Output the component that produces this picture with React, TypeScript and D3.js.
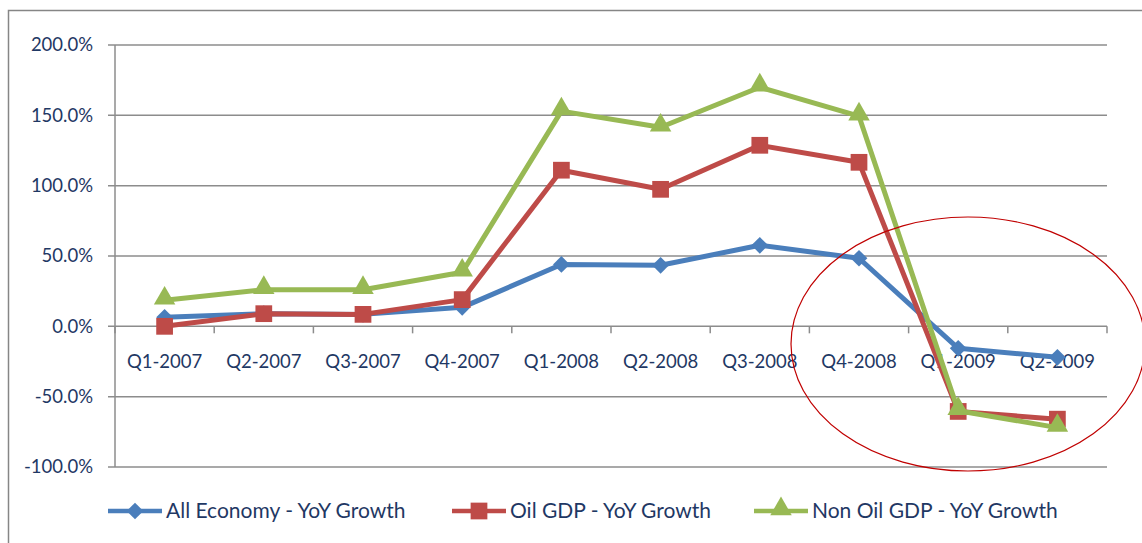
import React, { useEffect, useRef } from "react";
import * as d3 from "d3";

const categories = [
  "Q1-2007", "Q2-2007", "Q3-2007", "Q4-2007", "Q1-2008",
  "Q2-2008", "Q3-2008", "Q4-2008", "Q1-2009", "Q2-2009",
];
const allEconomy = [6.4, 9.0, 8.5, 13.5, 44.0, 43.4, 57.6, 48.4, -15.6, -22.0];
const oilGdp = [0.0, 9.0, 8.5, 19.0, 111.0, 97.4, 128.7, 116.6, -60.5, -66.0];
const nonOilGdp = [18.5, 26.0, 26.0, 38.4, 153.0, 141.5, 170.0, 149.4, -60.0, -72.0];
const yTicks = [-100, -50, 0, 50, 100, 150, 200];

const series = [
  { name: "All Economy - YoY Growth", values: allEconomy, color: "#4a7ebb", marker: "diamond" },
  { name: "Oil GDP - YoY Growth", values: oilGdp, color: "#be4b48", marker: "square" },
  { name: "Non Oil GDP - YoY Growth", values: nonOilGdp, color: "#98b954", marker: "triangle" },
];

const W = 1142;
const H = 543;
const textColor = "#1f3864";
const font = "Lato, sans-serif";

export default function App() {
  const ref = useRef<SVGSVGElement>(null);

  useEffect(() => {
    const svg = d3.select(ref.current);
    svg.selectAll("*").remove();

    const margin = { top: 45, right: 35, bottom: 76, left: 115 };
    const x = d3.scaleBand().domain(categories).range([margin.left, W - margin.right]);
    const y = d3.scaleLinear().domain([-100, 200]).range([H - margin.bottom, margin.top]);

    // outer chart border
    svg.append("path")
      .attr("d", `M8.5,${H} V10.5 H${W}`)
      .attr("fill", "none")
      .attr("stroke", "#868686")
      .attr("stroke-width", 1.5);

    // gridlines
    svg.append("g")
      .selectAll("line")
      .data(yTicks)
      .join("line")
      .attr("x1", margin.left - 7)
      .attr("x2", W - margin.right)
      .attr("y1", (d) => y(d))
      .attr("y2", (d) => y(d))
      .attr("stroke", "#8c8c8c")
      .attr("stroke-width", 1.5);

    // y axis line
    svg.append("line")
      .attr("x1", margin.left).attr("x2", margin.left)
      .attr("y1", y(200)).attr("y2", y(-100))
      .attr("stroke", "#8c8c8c").attr("stroke-width", 1.5);

    // y labels (plain hyphen for negatives, like the source)
    svg.append("g")
      .selectAll("text")
      .data(yTicks)
      .join("text")
      .attr("x", margin.left - 22)
      .attr("y", (d) => y(d))
      .attr("dy", "0.35em")
      .attr("text-anchor", "end")
      .attr("font-family", font)
      .attr("font-size", 18.5)
      .attr("fill", textColor)
      .text((d) => d.toFixed(1) + "%");

    // x tick marks at category boundaries on zero line
    const bounds = categories.map((c) => x(c) as number).concat([W - margin.right]);
    svg.append("g")
      .selectAll("line")
      .data(bounds)
      .join("line")
      .attr("x1", (d) => d).attr("x2", (d) => d)
      .attr("y1", y(0)).attr("y2", y(0) + 7)
      .attr("stroke", "#8c8c8c").attr("stroke-width", 1.5);

    // x labels
    svg.append("g")
      .selectAll("text")
      .data(categories)
      .join("text")
      .attr("x", (d) => (x(d) as number) + x.bandwidth() / 2)
      .attr("y", y(0) + 35)
      .attr("dy", "0.35em")
      .attr("text-anchor", "middle")
      .attr("font-family", font)
      .attr("font-size", 18.5)
      .attr("fill", textColor)
      .text((d) => d);

    const symbolFor = (m: string) =>
      m === "square"
        ? d3.symbol().type(d3.symbolSquare).size(280)
        : m === "diamond"
        ? d3.symbol().type(d3.symbolSquare).size(140)
        : d3.symbol().type(d3.symbolTriangle).size(200);

    const markerShift = (m: string) => (m === "triangle" ? -2 : 0);
    const markerRot = (m: string) => (m === "diamond" ? " rotate(45)" : "");

    const line = d3
      .line<number>()
      .x((_, i) => (x(categories[i]) as number) + x.bandwidth() / 2)
      .y((d) => y(d));

    series.forEach((s) => {
      const g = svg.append("g");
      g.append("path")
        .attr("d", line(s.values))
        .attr("fill", "none")
        .attr("stroke", s.color)
        .attr("stroke-width", 5)
        .attr("stroke-linejoin", "round");
      g.selectAll("path.m")
        .data(s.values)
        .join("path")
        .attr("class", "m")
        .attr("d", symbolFor(s.marker)())
        .attr("transform", (d, i) => {
          const cx = (x(categories[i]) as number) + x.bandwidth() / 2;
          return `translate(${cx},${y(d) + markerShift(s.marker)})${markerRot(s.marker)}`;
        })
        .attr("fill", s.color);
    });

    // highlight ellipse
    svg.append("ellipse")
      .attr("cx", 968).attr("cy", 344)
      .attr("rx", 177).attr("ry", 127)
      .attr("fill", "none")
      .attr("stroke", "#c00000")
      .attr("stroke-width", 1.2);

    // legend
    const legendX = [108, 452, 754];
    const legendY = 511;
    series.forEach((s, i) => {
      const lg = svg.append("g").attr("transform", `translate(${legendX[i]},${legendY})`);
      lg.append("line")
        .attr("x1", 0).attr("x2", 54)
        .attr("stroke", s.color).attr("stroke-width", 4.5);
      lg.append("path")
        .attr("d", symbolFor(s.marker)())
        .attr("transform", `translate(27,${markerShift(s.marker)})${markerRot(s.marker)}`)
        .attr("fill", s.color);
      lg.append("text")
        .attr("x", 58)
        .attr("dy", "0.35em")
        .attr("font-family", font)
        .attr("font-size", 21)
        .attr("fill", textColor)
        .text(s.name);
    });
  }, []);

  return (
    <svg ref={ref} width={W} height={H} style={{ position: "absolute", left: 0, top: 0, background: "#fff" }} />
  );
}
